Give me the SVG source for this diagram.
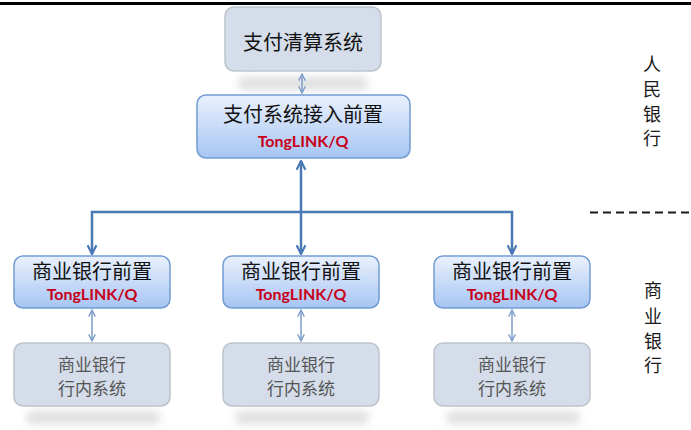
<svg xmlns="http://www.w3.org/2000/svg" width="691" height="430" viewBox="0 0 691 430">
<defs>
<linearGradient id="blueG" x1="0" y1="0" x2="0" y2="1">
<stop offset="0" stop-color="#eaf1fd"/>
<stop offset="1" stop-color="#a6c5f3"/>
</linearGradient>
<filter id="blur" x="-20%" y="-150%" width="140%" height="400%">
<feGaussianBlur stdDeviation="4"/>
</filter>
<marker id="ah" viewBox="0 0 10 10" refX="9" refY="5" markerWidth="4.4" markerHeight="4.4" orient="auto-start-reverse" markerUnits="strokeWidth">
<path d="M1,1 L9,5 L1,9" fill="none" stroke="#4a7ab5" stroke-width="2"/>
</marker>
<marker id="ahs" viewBox="0 0 10 10" refX="9" refY="5" markerWidth="5.5" markerHeight="5.5" orient="auto-start-reverse" markerUnits="strokeWidth">
<path d="M1,1 L9,5 L1,9" fill="none" stroke="#7b9dca" stroke-width="1.6"/>
</marker>
</defs>
<style>
.grey{fill:#d4dde9;stroke:#bcc3cc;stroke-width:1.5}
.blue{fill:url(#blueG);stroke:#729cd2;stroke-width:1.5}
.shadow{fill:#c4c4c4;opacity:0.55;filter:url(#blur)}
.cn{font-family:"Noto Sans CJK SC","Noto Sans",sans-serif;text-anchor:middle}
.title{font-size:20px;fill:#111111}
.sys{font-size:17px;fill:#555555}
.tl{font-family:Lato,"Open Sans",sans-serif;font-weight:bold;font-size:16px;fill:#c8001a;text-anchor:middle}
.side{font-family:"Noto Sans CJK SC",sans-serif;font-size:18px;fill:#1a1a1a;text-anchor:middle}
.thick{fill:none;stroke:#4a7ab5;stroke-width:2.5}
.thin{fill:none;stroke:#7b9dca;stroke-width:1.5}
</style>
<rect x="0" y="2" width="691" height="3" fill="#000"/>
<g id="shadows">
<rect class="shadow" x="238" y="77" width="130" height="13" rx="6"/>
<rect class="shadow" x="26" y="411" width="134" height="13" rx="6"/>
<rect class="shadow" x="235" y="411" width="134" height="13" rx="6"/>
<rect class="shadow" x="446" y="411" width="134" height="13" rx="6"/>
</g>
<g id="connectors">
<path class="thin" d="M302,74 L302,93" marker-start="url(#ahs)" marker-end="url(#ahs)"/>
<path class="thick" d="M301,161 L301,254" marker-start="url(#ah)" marker-end="url(#ah)"/>
<path class="thick" d="M92,254 L92,212 L512,212 L512,254" marker-start="url(#ah)" marker-end="url(#ah)"/>
<path class="thin" d="M92,310 L92,341" marker-start="url(#ahs)" marker-end="url(#ahs)"/>
<path class="thin" d="M301,310 L301,341" marker-start="url(#ahs)" marker-end="url(#ahs)"/>
<path class="thin" d="M512,310 L512,341" marker-start="url(#ahs)" marker-end="url(#ahs)"/>
</g>
<g id="clearing">
<rect class="grey" x="225" y="7" width="156" height="64" rx="9"/>
<text class="cn title" x="303" y="50">支付清算系统</text>
</g>
<g id="access">
<rect class="blue" x="197" y="95" width="213" height="63" rx="9"/>
<text class="cn title" x="303" y="122">支付系统接入前置</text>
<text class="tl" x="303" y="147">TongLINK/Q</text>
</g>
<g id="front1">
<rect class="blue" x="14" y="256" width="156" height="52" rx="9"/>
<text class="cn title" x="92" y="279">商业银行前置</text>
<text class="tl" x="92" y="300">TongLINK/Q</text>
</g>
<g id="front2">
<rect class="blue" x="223" y="256" width="156" height="52" rx="9"/>
<text class="cn title" x="301" y="279">商业银行前置</text>
<text class="tl" x="301" y="300">TongLINK/Q</text>
</g>
<g id="front3">
<rect class="blue" x="434" y="256" width="156" height="52" rx="9"/>
<text class="cn title" x="512" y="279">商业银行前置</text>
<text class="tl" x="512" y="300">TongLINK/Q</text>
</g>
<g id="sys1">
<rect class="grey" x="14" y="343" width="156" height="63" rx="9"/>
<text class="cn sys" x="92" y="371">商业银行</text>
<text class="cn sys" x="92" y="395">行内系统</text>
</g>
<g id="sys2">
<rect class="grey" x="223" y="343" width="156" height="63" rx="9"/>
<text class="cn sys" x="301" y="371">商业银行</text>
<text class="cn sys" x="301" y="395">行内系统</text>
</g>
<g id="sys3">
<rect class="grey" x="434" y="343" width="156" height="63" rx="9"/>
<text class="cn sys" x="512" y="371">商业银行</text>
<text class="cn sys" x="512" y="395">行内系统</text>
</g>
<g id="divider">
<line x1="590" y1="212.5" x2="691" y2="212.5" stroke="#1a1a1a" stroke-width="2" stroke-dasharray="8,5"/>
</g>
<g id="label-pbc">
<text class="side" x="652" y="71">人</text>
<text class="side" x="652" y="96">民</text>
<text class="side" x="652" y="121">银</text>
<text class="side" x="652" y="145">行</text>
</g>
<g id="label-cb">
<text class="side" x="653" y="297">商</text>
<text class="side" x="653" y="323">业</text>
<text class="side" x="653" y="348">银</text>
<text class="side" x="653" y="372">行</text>
</g>
</svg>
